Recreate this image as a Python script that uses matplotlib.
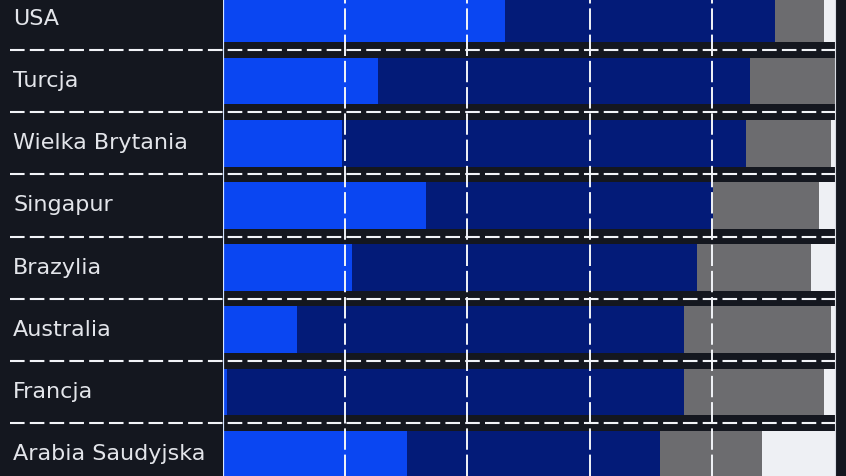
import numpy as np
import matplotlib
matplotlib.use("Agg")
import matplotlib.pyplot as plt

countries = ["USA", "Turcja", "Wielka Brytania", "Singapur", "Brazylia",
             "Australia", "Francja", "Arabia Saudyjska"]
# shares in percent, segments left to right
blue = [46.1, 25.4, 19.5, 33.2, 21.1, 12.2, 0.7, 30.1]
navy = [44.1, 60.8, 65.9, 46.9, 56.3, 63.1, 74.6, 41.3]
gray = [8.0, 13.8, 14.0, 17.3, 18.7, 24.1, 22.9, 16.7]
white = [1.8, 0.0, 0.6, 2.6, 3.9, 0.6, 1.8, 11.9]

bg = "#14171f"
colors = ["#0a46f2", "#031b78", "#6c6c6f", "#eef0f4"]

fig = plt.figure(figsize=(8.46, 4.76), dpi=100, facecolor=bg)
ax = fig.add_axes([222.5 / 846, 0, 1 - 222.5 / 846, 1])
ax.set_facecolor(bg)

y = np.arange(len(countries))
left = np.zeros(len(countries))
for vals, c in zip([blue, navy, gray, white], colors):
    ax.barh(y, vals, left=left, height=0.75, color=c, zorder=2)
    left += np.array(vals)

ax.set_xlim(0, 101.8)
ax.set_ylim(7.354, -0.306)

# grid
ax.axvline(0, color="#d6e6ff", lw=1.6, zorder=4)
for gx in [20, 40, 60, 80]:
    ax.axvline(gx, color="#f2f4f8", lw=1.4, ls=(0, (11, 2.5)), zorder=4)
ax.axvline(100, color="#d8dbe2", lw=0.8, zorder=3)
ax.hlines(y[:-1] + 0.5, -34.7, 100, color="#f2f4f8", lw=1.5,
          ls=(0, (7, 2.5)), zorder=4, clip_on=False)

for i, name in enumerate(countries):
    ax.text(-34.2, i, name, color="#e3e5ea", fontsize=16,
            family="DejaVu Sans", va="center", ha="left", clip_on=False)

ax.set_xticks([])
ax.set_yticks([])
for s in ax.spines.values():
    s.set_visible(False)

fig.savefig("out.png", dpi=100, facecolor=bg)
